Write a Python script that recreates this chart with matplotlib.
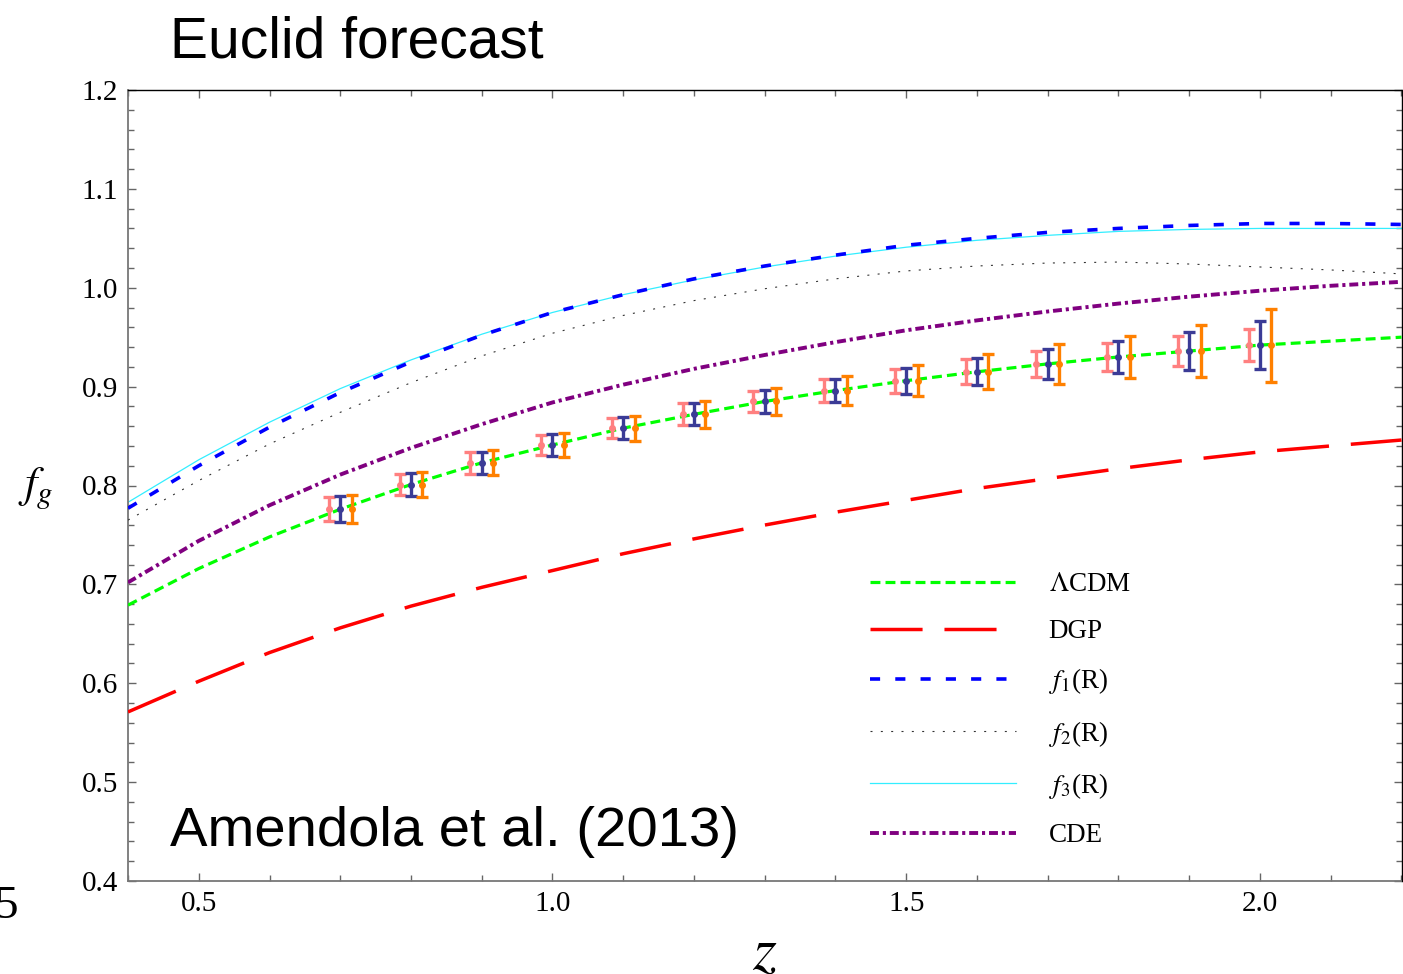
import numpy as np
import matplotlib
matplotlib.use("Agg")
import matplotlib.pyplot as plt
from matplotlib.ticker import MultipleLocator, FormatStrFormatter

plt.rcParams['font.family'] = ['Liberation Serif', 'DejaVu Serif']
plt.rcParams['mathtext.fontset'] = 'stix'

# redshift grid of the model curves
z = [0.4, 0.5, 0.6, 0.7, 0.8, 0.9, 1.0, 1.1, 1.2, 1.3, 1.4, 1.5, 1.6, 1.7, 1.8, 1.9, 2.0, 2.1, 2.2]

# growth rate f_g for each model
lcdm = [0.679, 0.716, 0.748, 0.776, 0.801, 0.823, 0.841, 0.858, 0.872, 0.885, 0.896, 0.906, 0.915,
        0.923, 0.930, 0.936, 0.942, 0.946, 0.950]
dgp = [0.571, 0.602, 0.631, 0.656, 0.678, 0.697, 0.714, 0.731, 0.746, 0.760, 0.773, 0.785, 0.797,
       0.807, 0.817, 0.826, 0.834, 0.840, 0.846]
f1r = [0.777, 0.820, 0.859, 0.894, 0.925, 0.952, 0.975, 0.993, 1.009, 1.022, 1.033, 1.043, 1.050,
       1.056, 1.060, 1.063, 1.065, 1.065, 1.064]
f2r = [0.765, 0.805, 0.842, 0.874, 0.904, 0.931, 0.954, 0.972, 0.987, 0.999, 1.009, 1.017, 1.022,
       1.025, 1.026, 1.024, 1.021, 1.018, 1.014]
f3r = [0.783, 0.826, 0.864, 0.898, 0.927, 0.953, 0.975, 0.993, 1.008, 1.021, 1.032, 1.041, 1.048,
       1.053, 1.057, 1.059, 1.060, 1.060, 1.060]
cde = [0.702, 0.744, 0.780, 0.811, 0.838, 0.862, 0.884, 0.902, 0.918, 0.932, 0.945, 0.957, 0.967,
       0.976, 0.984, 0.991, 0.997, 1.002, 1.006]

# Euclid forecast error bars (three survey configurations)
eb_z = [0.7, 0.8, 0.9, 1.0, 1.1, 1.2, 1.3, 1.4, 1.5, 1.6, 1.7, 1.8, 1.9, 2.0]
eb_f = [0.776, 0.801, 0.823, 0.841, 0.858, 0.872, 0.885, 0.896, 0.906, 0.915, 0.923, 0.930, 0.936, 0.942]
err_pink = [0.012, 0.011, 0.011, 0.0105, 0.010, 0.011, 0.011, 0.0115, 0.012, 0.0125, 0.0135, 0.0145, 0.0155, 0.016]
err_navy = [0.013, 0.012, 0.011, 0.011, 0.011, 0.011, 0.012, 0.012, 0.013, 0.0135, 0.0155, 0.016, 0.019, 0.024]
err_orange = [0.014, 0.013, 0.0125, 0.0125, 0.0125, 0.0135, 0.014, 0.015, 0.0157, 0.0177, 0.020, 0.021, 0.026, 0.037]

fig = plt.figure(figsize=(14.03, 9.74), dpi=100)
ax = fig.add_axes([128 / 1403, 1 - 881 / 974, 1273.5 / 1403, 791 / 974])

ax.plot(z, lcdm, color='#00ff00', lw=2.3, dashes=(3.1, 1.6), label=r'$\Lambda$CDM', zorder=3)
ax.plot(z, dgp, color='#ff0000', lw=2.5, dashes=(15, 6.3), label='DGP', zorder=3)
ax.plot(z, f1r, color='#0000ff', lw=2.6, dashes=(2.8, 4.2), label=r'$f_1$(R)', zorder=3)
ax.plot(z, f2r, color='#333333', lw=0.8, dashes=(1.8, 7.5), label=r'$f_2$(R)', zorder=3)
ax.plot(z, f3r, color='#33eeff', lw=0.9, label=r'$f_3$(R)', zorder=2)
ax.plot(z, cde, color='#800080', lw=2.8, dashes=(2.3, 1.0, 0.8, 1.0), label='CDE', zorder=3)

off = 0.016
eb_z = np.array(eb_z)
for dz, err, col in [(-off, err_pink, '#ff8080'), (0.0, err_navy, '#3b3b96'), (off, err_orange, '#ff8000')]:
    ax.errorbar(eb_z + dz, eb_f, yerr=err, fmt='o', ms=4, color=col, ecolor=col,
                elinewidth=2.4, capsize=4, capthick=2.4, zorder=4)

ax.set_xlim(0.4, 2.2)
ax.set_ylim(0.4, 1.2)
ax.xaxis.set_major_locator(MultipleLocator(0.5))
ax.xaxis.set_minor_locator(MultipleLocator(0.1))
ax.yaxis.set_major_locator(MultipleLocator(0.1))
ax.yaxis.set_minor_locator(MultipleLocator(0.02))
ax.xaxis.set_major_formatter(FormatStrFormatter('%.1f'))
ax.yaxis.set_major_formatter(FormatStrFormatter('%.1f'))
ax.tick_params(which='both', direction='in', top=True, right=True, color='#666666', labelsize=21)
ax.tick_params(which='major', length=6, width=1)
ax.tick_params(which='minor', length=4, width=1)
ax.tick_params(axis='y', pad=7)
ax.tick_params(axis='x', pad=7)
for s in ['left', 'bottom']:
    ax.spines[s].set_color('#777777')
    ax.spines[s].set_linewidth(1.3)
for s in ['top', 'right']:
    ax.spines[s].set_color('black')
    ax.spines[s].set_linewidth(1.0)

leg = ax.legend(loc='upper left', bbox_to_anchor=(870 / 1403, 1 - 572 / 974), bbox_transform=fig.transFigure,
                frameon=False, fontsize=19.5, handlelength=5.4, handletextpad=1.2, labelspacing=0.82,
                borderpad=0, borderaxespad=0)

fig.text(170 / 1403, 1 - 58 / 974, 'Euclid forecast', family='Liberation Sans', fontsize=41, va='baseline')
fig.text(170 / 1403, 1 - 846 / 974, 'Amendola et al. (2013)', family='Liberation Sans', fontsize=40.5,
         va='baseline')
fig.text(36 / 1403, 1 - 488 / 974, r'$f_g$', fontsize=32, ha='center', va='center')
fig.text(765 / 1403, 1 - 926 / 974, r'$z$', fontsize=44, ha='center', va='top')
fig.text(-6 / 1403, 1 - 918 / 974, '5', fontsize=34, ha='left', va='baseline')

fig.savefig('out.png', dpi=100)
